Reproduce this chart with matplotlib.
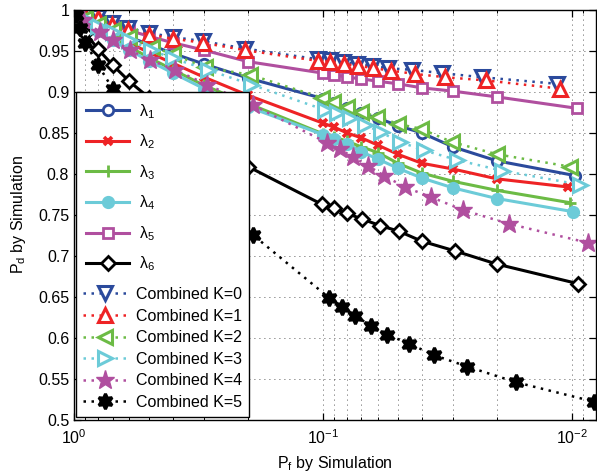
import numpy as np
import matplotlib
matplotlib.use("Agg")
import matplotlib.pyplot as plt
from matplotlib.ticker import NullFormatter, FixedLocator, FuncFormatter
from matplotlib.patches import Rectangle

plt.rcParams['font.family'] = ['Liberation Sans', 'DejaVu Sans']
plt.rcParams['mathtext.fontset'] = 'custom'
plt.rcParams['mathtext.rm'] = 'Liberation Sans'
plt.rcParams['mathtext.it'] = 'Liberation Sans:italic'
plt.rcParams['font.size'] = 11.5

# ---- data (Pf, Pd) ----
left_pf = [1.0, 0.9, 0.8, 0.7, 0.6, 0.5, 0.4, 0.3, 0.2]

lam1_pf = left_pf + [0.1, 0.09, 0.08, 0.07, 0.06, 0.05, 0.04, 0.03, 0.02, 0.0097]
lam1_pd = [0.998, 0.990, 0.983, 0.975, 0.967, 0.958, 0.947, 0.934, 0.917,
           0.892, 0.886, 0.880, 0.874, 0.868, 0.859, 0.850, 0.833, 0.816, 0.798]

lam2_pf = left_pf + [0.1, 0.09, 0.08, 0.07, 0.06, 0.05, 0.04, 0.03, 0.02, 0.0103]
lam2_pd = [0.997, 0.988, 0.979, 0.970, 0.960, 0.948, 0.935, 0.918, 0.896,
           0.862, 0.857, 0.850, 0.844, 0.835, 0.824, 0.813, 0.806, 0.794, 0.784]

lam3_pf = left_pf + [0.1, 0.09, 0.08, 0.07, 0.06, 0.05, 0.04, 0.03, 0.02, 0.0102]
lam3_pd = [0.997, 0.987, 0.977, 0.966, 0.955, 0.942, 0.927, 0.908, 0.886,
           0.849, 0.845, 0.840, 0.833, 0.826, 0.813, 0.801, 0.791, 0.780, 0.765]

lam4_pf = left_pf + [0.1, 0.09, 0.08, 0.07, 0.06, 0.05, 0.04, 0.03, 0.02, 0.0099]
lam4_pd = [0.996, 0.985, 0.974, 0.963, 0.951, 0.938, 0.923, 0.904, 0.882,
           0.848, 0.843, 0.837, 0.827, 0.818, 0.807, 0.795, 0.783, 0.770, 0.754]

lam5_pf = left_pf + [0.1, 0.09, 0.08, 0.07, 0.06, 0.05, 0.04, 0.03, 0.02, 0.0095]
lam5_pd = [0.998, 0.992, 0.986, 0.980, 0.975, 0.968, 0.960, 0.951, 0.937,
           0.923, 0.921, 0.918, 0.916, 0.913, 0.910, 0.905, 0.901, 0.894, 0.880]

lam6_pf = left_pf + [0.101, 0.0904, 0.080, 0.0697, 0.0589, 0.0494, 0.0401, 0.0294, 0.020, 0.0094]
lam6_pd = [0.996, 0.972, 0.952, 0.933, 0.913, 0.893, 0.870, 0.843, 0.809,
           0.763, 0.759, 0.752, 0.745, 0.737, 0.730, 0.718, 0.706, 0.690, 0.666]

k0_pf = [0.99, 0.9, 0.80, 0.704, 0.607, 0.50, 0.40, 0.304, 0.206,
         0.105, 0.0938, 0.0832, 0.0730, 0.0636, 0.0548, 0.0439, 0.0333, 0.0230, 0.0115]
k0_pd = [0.999, 0.994, 0.991, 0.984, 0.978, 0.972, 0.967, 0.962, 0.953,
         0.940, 0.939, 0.937, 0.934, 0.932, 0.929, 0.927, 0.923, 0.918, 0.910]

k1_pf = [0.99, 0.9, 0.80, 0.704, 0.607, 0.50, 0.40, 0.304, 0.206,
         0.105, 0.0938, 0.0822, 0.0721, 0.0627, 0.0533, 0.0426, 0.0323, 0.0220, 0.0111]
k1_pd = [0.998, 0.993, 0.990, 0.982, 0.976, 0.970, 0.965, 0.960, 0.951,
         0.938, 0.937, 0.934, 0.932, 0.929, 0.926, 0.922, 0.918, 0.914, 0.904]

k2_pf = [0.99, 0.9, 0.8, 0.7, 0.6, 0.486, 0.4, 0.298, 0.196,
         0.101, 0.0914, 0.0800, 0.0704, 0.0606, 0.0499, 0.0403, 0.0303, 0.0200, 0.0102]
k2_pd = [0.998, 0.990, 0.983, 0.975, 0.967, 0.955, 0.946, 0.930, 0.921,
         0.893, 0.888, 0.882, 0.876, 0.870, 0.861, 0.855, 0.839, 0.824, 0.809]

k3_pf = [0.99, 0.9, 0.8, 0.7, 0.6, 0.49, 0.4, 0.29, 0.194,
         0.0981, 0.0879, 0.0780, 0.0679, 0.0586, 0.0490, 0.0394, 0.0289, 0.0191, 0.0093]
k3_pd = [0.998, 0.989, 0.981, 0.973, 0.964, 0.951, 0.941, 0.927, 0.909,
         0.878, 0.874, 0.868, 0.860, 0.851, 0.839, 0.829, 0.817, 0.804, 0.787]

k4_pf = [0.98, 0.92, 0.786, 0.697, 0.596, 0.495, 0.393, 0.292, 0.191,
         0.0963, 0.0857, 0.0757, 0.0659, 0.0568, 0.0469, 0.0369, 0.0274, 0.0178, 0.0086]
k4_pd = [0.996, 0.988, 0.973, 0.963, 0.951, 0.939, 0.927, 0.909, 0.884,
         0.838, 0.830, 0.821, 0.810, 0.798, 0.784, 0.772, 0.756, 0.739, 0.716]

k5_pf = [0.98, 0.945, 0.9, 0.8, 0.7, 0.6, 0.5, 0.4, 0.3, 0.19,
         0.0945, 0.0838, 0.0743, 0.0642, 0.0552, 0.0451, 0.0358, 0.0263, 0.0168, 0.0081]
k5_pd = [0.994, 0.978, 0.960, 0.933, 0.904, 0.883, 0.858, 0.827, 0.788, 0.725,
         0.649, 0.638, 0.627, 0.615, 0.604, 0.593, 0.579, 0.565, 0.546, 0.522]

BLUE = '#2b4a9c'
RED = '#ee2325'
GREEN = '#6cbb45'
CYAN = '#6ccbd8'
MAG = '#b04f9f'
BLK = 'black'

fig = plt.figure(figsize=(5.97, 4.76), dpi=100)
ax = fig.add_axes([0.124, 0.118, 0.874, 0.861])

solid = dict(lw=2.2, mew=2)
lam_lines = []
lam_lines += ax.plot(lam1_pf, lam1_pd, '-o', color=BLUE, mfc='white', ms=7.5, label=r'λ$_{1}$', **solid)
lam_lines += ax.plot(lam2_pf, lam2_pd, '-x', color=RED, ms=6, label=r'λ$_{2}$', lw=2.2, mew=2.6)
lam_lines += ax.plot(lam3_pf, lam3_pd, '-+', color=GREEN, ms=9, label=r'λ$_{3}$', **solid)
lam_lines += ax.plot(lam4_pf, lam4_pd, '-o', color=CYAN, mfc=CYAN, ms=7.5, label=r'λ$_{4}$', **solid)
lam_lines += ax.plot(lam5_pf, lam5_pd, '-s', color=MAG, mfc='white', ms=7, label=r'λ$_{5}$', **solid)
lam_lines += ax.plot(lam6_pf, lam6_pd, '-D', color=BLK, mfc='white', ms=7.5, label=r'λ$_{6}$', **solid)

dots = dict(ls=(0, (1, 2.2)), lw=1.8, mew=2.2)
k_lines = []
k_lines += ax.plot(k0_pf, k0_pd, marker='v', color=BLUE, mfc='white', ms=10, label='Combined K=0', **dots)
k_lines += ax.plot(k1_pf, k1_pd, marker='^', color=RED, mfc='white', ms=10, label='Combined K=1', **dots)
k_lines += ax.plot(k2_pf, k2_pd, marker='<', color=GREEN, mfc='white', ms=10, label='Combined K=2', **dots)
k_lines += ax.plot(k3_pf, k3_pd, marker='>', color=CYAN, mfc='white', ms=10, label='Combined K=3', **dots)
k_lines += ax.plot(k4_pf, k4_pd, marker='*', color=MAG, mfc=MAG, ms=14, label='Combined K=4',
                   ls=(0, (1, 2.2)), lw=1.8, mew=1)
k_lines += ax.plot(k5_pf, k5_pd, marker=(6, 1, 0), color=BLK, mfc=BLK, ms=11, label='Combined K=5', **dots)

ax.set_xscale('log')
ax.set_xlim(1.0, 0.008)
ax.set_ylim(0.5, 1.0)
ax.yaxis.set_major_locator(FixedLocator(np.arange(0.5, 1.0001, 0.05)))
ax.yaxis.set_major_formatter(FuncFormatter(lambda v, p: '%g' % round(v, 2)))
ax.xaxis.set_minor_formatter(NullFormatter())

grid_kw = dict(color='#222222', lw=0.6, ls=(0, (1, 5)))
ax.grid(True, which='major', axis='both', **grid_kw)
ax.grid(True, which='minor', axis='x', **grid_kw)
ax.tick_params(which='both', direction='in', top=True, right=True, labelsize=11.5)
ax.tick_params(axis='x', which='major', pad=6)
ax.tick_params(which='major', length=5, width=0.9)
ax.tick_params(which='minor', length=2.5, width=0.7)
for s in ax.spines.values():
    s.set_linewidth(1.0)

ax.set_xlabel(r'P$_{\mathregular{f}}$ by Simulation', fontsize=11.5, labelpad=5)
ax.set_ylabel(r'P$_{\mathregular{d}}$ by Simulation', fontsize=11.5, labelpad=7)

# legend: one white box holding two legend blocks with different row spacing
box = Rectangle((0.004, 0.007), 0.331, 0.793, transform=ax.transAxes,
                facecolor='white', edgecolor='black', lw=1.0, zorder=4)
ax.add_patch(box)
leg_kw = dict(frameon=False, fontsize=11.5, handlelength=2.7, handletextpad=0.6,
              borderaxespad=0)
leg1 = ax.legend(handles=lam_lines, loc='upper left', bbox_to_anchor=(0.004, 0.8),
                 labelspacing=0.74, borderpad=0.63, **leg_kw)
ax.add_artist(leg1)
leg2 = ax.legend(handles=k_lines, loc='lower left', bbox_to_anchor=(0.004, 0.007),
                 labelspacing=0.41, borderpad=0.45, **leg_kw)

fig.savefig('out.png', dpi=100)
